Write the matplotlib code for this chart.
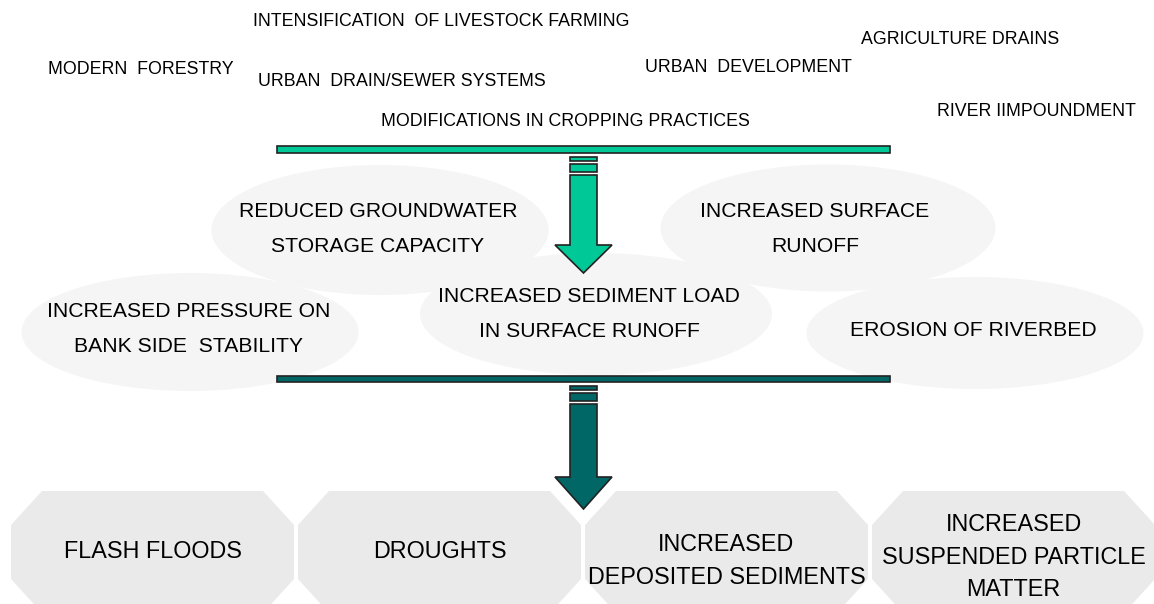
import matplotlib
matplotlib.use('Agg')
import matplotlib.pyplot as plt
import matplotlib.patches as mpatches

plt.rcParams['font.family'] = ['Liberation Sans', 'DejaVu Sans']

W, H = 1154, 604

# causes (top row of free text)
cause_labels = ['INTENSIFICATION  OF LIVESTOCK FARMING', 'AGRICULTURE DRAINS',
                'MODERN  FORESTRY', 'URBAN  DRAIN/SEWER SYSTEMS',
                'URBAN  DEVELOPMENT', 'RIVER IIMPOUNDMENT',
                'MODIFICATIONS IN CROPPING PRACTICES']
cause_xy = [(441, 21), (960, 40), (141, 70), (402, 82), (748, 68), (1036, 112), (565, 122)]

# intermediate effects (ellipses)
effect_labels = ['REDUCED GROUNDWATER\nSTORAGE CAPACITY', 'INCREASED SURFACE\nRUNOFF',
                 'INCREASED PRESSURE ON\nBANK SIDE  STABILITY',
                 'INCREASED SEDIMENT LOAD\nIN SURFACE RUNOFF', 'EROSION OF RIVERBED']
effect_ell = [(380, 230, 337, 130), (828, 228, 335, 127), (190, 332, 337, 118),
              (596, 314, 352, 122), (975, 333, 337, 112)]
effect_txt = [(378, 229), (815, 229), (189, 329), (589, 314), (973, 331)]

# final impacts (octagons)
impact_labels = ['FLASH FLOODS', 'DROUGHTS', 'INCREASED\nDEPOSITED SEDIMENTS',
                 'INCREASED\nSUSPENDED PARTICLE\nMATTER']
impact_y = [552, 552, 561, 557]

green = '#00C896'
teal = '#006666'
edge = '#222222'

fig = plt.figure(figsize=(W / 100, H / 100), dpi=100)
ax = fig.add_axes([0, 0, 1, 1])
ax.set_xlim(0, W)
ax.set_ylim(H, 0)
ax.axis('off')

for lbl, (x, y) in zip(cause_labels, cause_xy):
    ax.text(x, y, lbl, ha='center', va='center', fontsize=12.8, color='black')

for (cx, cy, w, h) in effect_ell:
    ax.add_patch(mpatches.Ellipse((cx, cy), w, h, facecolor='#F5F5F5',
                                  edgecolor='none', zorder=1))
for lbl, (x, y) in zip(effect_labels, effect_txt):
    ax.text(x, y, lbl, ha='center', va='center', fontsize=15.2, linespacing=2.02,
            color='black', zorder=5)


def bar_and_arrow(y_bar, y_top, y_head, y_tip, color):
    ax.add_patch(mpatches.Rectangle((277, y_bar), 613, 6.5, facecolor=color,
                                    edgecolor=edge, lw=1.2, zorder=3))
    x0, x1 = 570, 597
    for (a, b) in [(y_top, y_top + 4), (y_top + 7, y_top + 15)]:
        ax.add_patch(mpatches.Rectangle((x0, a), x1 - x0, b - a, facecolor=color,
                                        edgecolor=edge, lw=1.2, zorder=3))
    body = [(x0, y_top + 18), (x1, y_top + 18), (x1, y_head), (612, y_head),
            (583.5, y_tip), (555, y_head), (x0, y_head)]
    ax.add_patch(mpatches.Polygon(body, closed=True, facecolor=color,
                                  edgecolor=edge, lw=1.2, zorder=4))


bar_and_arrow(146, 157, 245, 273, green)
bar_and_arrow(375.5, 386, 477, 509, teal)

top, bot, cut_y, cut_x = 491, 613, 34, 31
for i, lbl in enumerate(impact_labels):
    left = 11 + i * 287
    right = left + 283
    pts = [(left + cut_x, top), (right - cut_x, top), (right, top + cut_y),
           (right, bot - cut_y), (right - cut_x, bot), (left + cut_x, bot),
           (left, bot - cut_y), (left, top + cut_y)]
    ax.add_patch(mpatches.Polygon(pts, closed=True, facecolor='#EAEAEA',
                                  edgecolor='none', zorder=2))
    ax.text((left + right) / 2, impact_y[i], lbl, ha='center', va='center',
            fontsize=16.8, linespacing=1.53, color='black', zorder=5)

fig.savefig('out.png', dpi=100)
